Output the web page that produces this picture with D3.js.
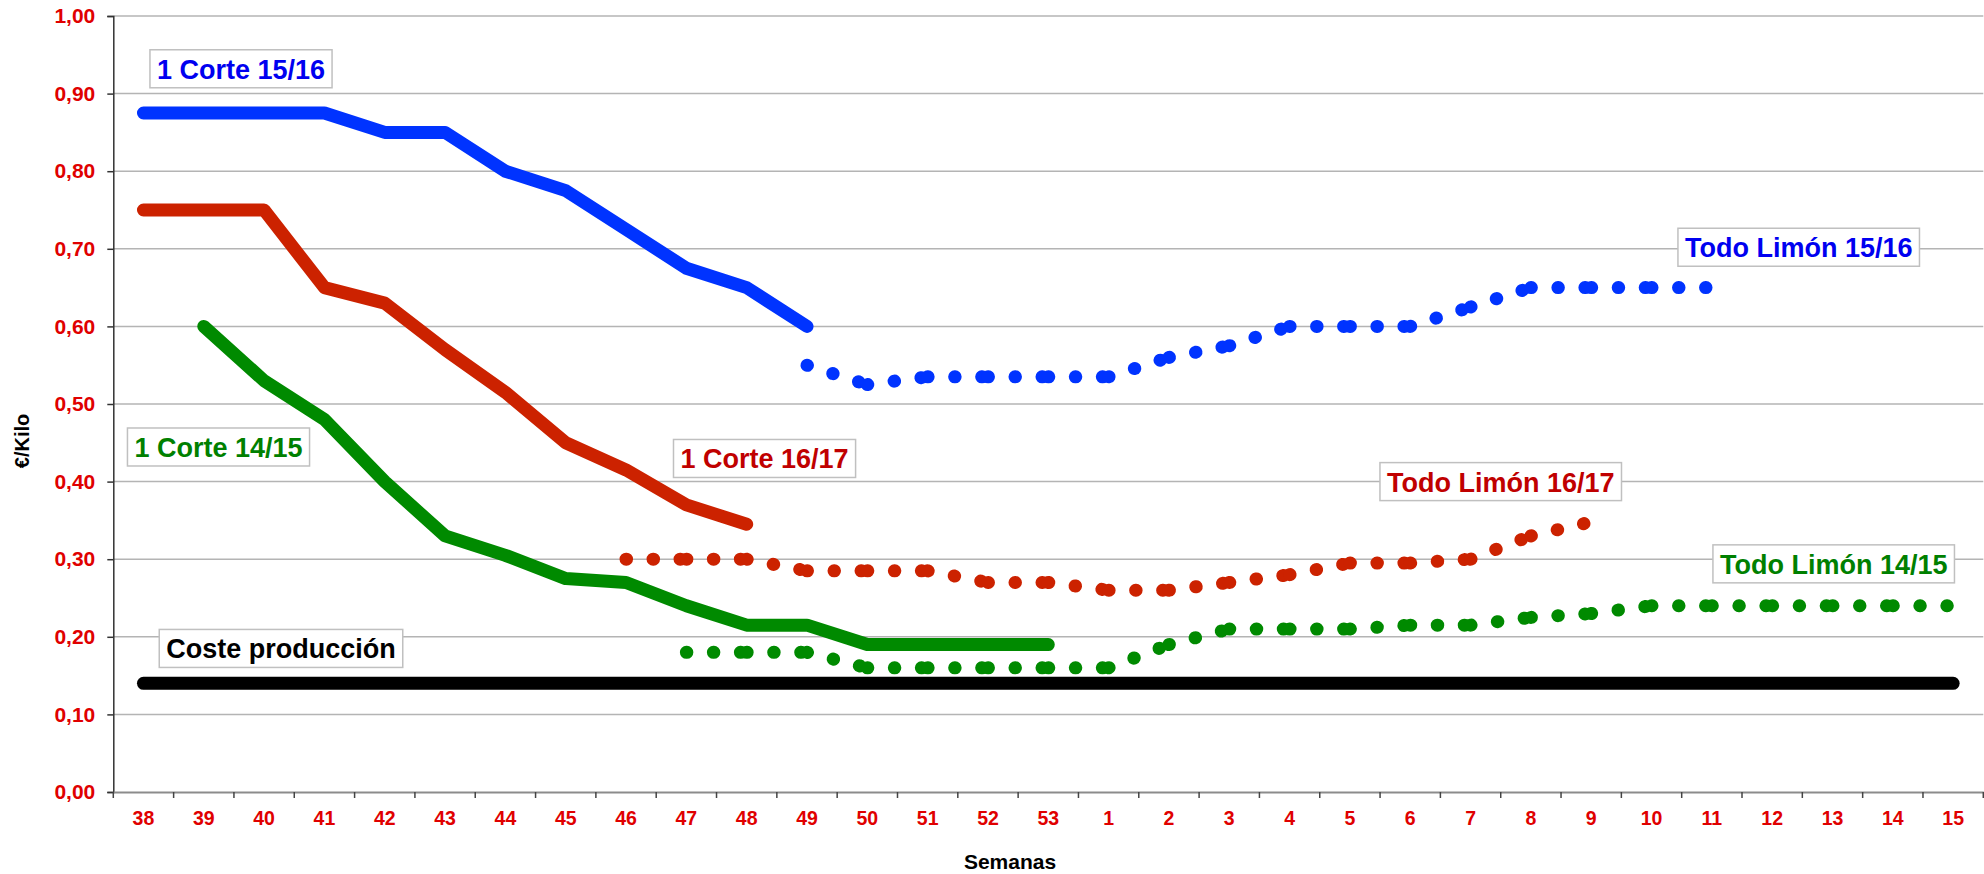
<!DOCTYPE html>
<html>
<head>
<meta charset="utf-8">
<script src="https://cdn.jsdelivr.net/npm/d3@7"></script>
<style>
    body { margin: 0; background: #fff; }
    svg text { font-family: "Liberation Sans", Arial, sans-serif; font-weight: bold; }
</style>
</head>
<body>
<div id="chart"></div>
<script>
// semanas de campaña (38 a 53 y 1 a 15)
let weeks = ["38", "39", "40", "41", "42", "43", "44", "45", "46", "47", "48", "49", "50", "51", "52", "53",
    "1", "2", "3", "4", "5", "6", "7", "8", "9", "10", "11", "12", "13", "14", "15"];

let yTicks = [0, 0.1, 0.2, 0.3, 0.4, 0.5, 0.6, 0.7, 0.8, 0.9, 1.0];

// €/Kilo por semana, null = sin dato
let corte1516 = [0.875, 0.875, 0.875, 0.875, 0.85, 0.85, 0.80, 0.775, 0.725, 0.675, 0.65, 0.60,
    null, null, null, null, null, null, null, null, null, null, null, null, null, null, null, null, null, null, null];
let todo1516 = [null, null, null, null, null, null, null, null, null, null, null, 0.55,
    0.525, 0.535, 0.535, 0.535, 0.535, 0.56, 0.575, 0.60, 0.60, 0.60, 0.625, 0.65, 0.65, 0.65, 0.65, null, null, null, null];
let corte1617 = [0.75, 0.75, 0.75, 0.65, 0.63, 0.57, 0.515, 0.45, 0.415, 0.37, 0.345, null,
    null, null, null, null, null, null, null, null, null, null, null, null, null, null, null, null, null, null, null];
let todo1617 = [null, null, null, null, null, null, null, null, 0.30, 0.30, 0.30, 0.285,
    0.285, 0.285, 0.27, 0.27, 0.26, 0.26, 0.27, 0.28, 0.295, 0.295, 0.30, 0.33, 0.348, null, null, null, null, null, null];
let corte1415 = [null, 0.60, 0.53, 0.48, 0.40, 0.33, 0.305, 0.275, 0.27, 0.24, 0.215, 0.215,
    0.19, 0.19, 0.19, 0.19, null, null, null, null, null, null, null, null, null, null, null, null, null, null, null];
let todo1415 = [null, null, null, null, null, null, null, null, null, 0.18, 0.18, 0.18,
    0.16, 0.16, 0.16, 0.16, 0.16, 0.19, 0.21, 0.21, 0.21, 0.215, 0.215, 0.225, 0.23, 0.24, 0.24, 0.24, 0.24, 0.24, 0.24];
let coste = [0.14, 0.14, 0.14, 0.14, 0.14, 0.14, 0.14, 0.14, 0.14, 0.14, 0.14, 0.14,
    0.14, 0.14, 0.14, 0.14, 0.14, 0.14, 0.14, 0.14, 0.14, 0.14, 0.14, 0.14, 0.14, 0.14, 0.14, 0.14, 0.14, 0.14, 0.14];

function preciosChart() {

    let width = 1984,
        height = 874,
        left = 113.3,
        right = 1983.3,
        top = 16,
        bottom = 792,
        lineWidth = 13;

    let svg = d3.select("#chart")
        .append("svg")
        .attr("width", width)
        .attr("height", height)

    let x = d3.scaleBand()
        .domain(weeks)
        .range([left, right]);

    let y = d3.scaleLinear()
        .domain([0, 1])
        .range([bottom, top]);

    // posición de las etiquetas, en semanas
    let pos = d3.scaleLinear()
        .domain([0, weeks.length])
        .range([left, right]);

    let cx = function (w) {
        return x(w) + x.bandwidth() / 2;
    };

    // líneas de división
    svg.append("g")
        .selectAll("line")
        .data(yTicks.slice(1))
        .enter()
        .append("line")
        .attr("x1", left)
        .attr("x2", right)
        .attr("y1", function (d) { return y(d); })
        .attr("y2", function (d) { return y(d); })
        .style("stroke", "#b4b4b4")
        .style("stroke-width", 1.5)

    // eje Y
    let y_axis = d3.axisLeft(y)
        .tickValues(yTicks)
        .tickSize(6)
        .tickPadding(12)
        .tickFormat(function (d) {
            return d3.format(".2f")(d).replace(".", ",");
        });

    let gy = svg.append("g")
        .attr("transform", "translate(" + left + ",0)")
        .call(y_axis)

    gy.select(".domain").style("stroke", "#333").style("stroke-width", 1.5)
    gy.selectAll(".tick line").style("stroke", "#333").style("stroke-width", 1.5)
    gy.selectAll(".tick text")
        .style("fill", "#e00000")
        .style("font-size", "21px")
        .style("font-family", "'Liberation Sans', Arial, sans-serif")
        .style("font-weight", "bold")

    // eje X
    let x_axis = d3.axisBottom(x)
        .tickSize(0)
        .tickPadding(19);

    let gx = svg.append("g")
        .attr("transform", "translate(0," + bottom + ")")
        .call(x_axis)

    gx.select(".domain").style("stroke", "#8c8c8c").style("stroke-width", 2)
    gx.selectAll(".tick text")
        .style("fill", "#e00000")
        .style("font-size", "19.5px")
        .style("font-family", "'Liberation Sans', Arial, sans-serif")
        .style("font-weight", "bold")

    // marcas entre semanas
    gx.selectAll(".boundary")
        .data(weeks.map(function (w) { return x(w); }).concat([right]))
        .enter()
        .append("line")
        .attr("class", "boundary")
        .attr("x1", function (d) { return d; })
        .attr("x2", function (d) { return d; })
        .attr("y1", 0)
        .attr("y2", 6)
        .style("stroke", "#444")
        .style("stroke-width", 1.5)

    svg.append("text")
        .attr("x", 1010)
        .attr("y", 869)
        .attr("text-anchor", "middle")
        .style("font-size", "21px")
        .text("Semanas")

    svg.append("text")
        .attr("transform", "translate(29,441) rotate(-90)")
        .attr("text-anchor", "middle")
        .style("font-size", "20px")
        .text("€/Kilo")

    let line = d3.line()
        .defined(function (d) { return d.v != null; })
        .x(function (d) { return cx(d.w); })
        .y(function (d) { return y(d.v); });

    function toPoints(values) {
        return weeks.map(function (w, i) {
            return { w: w, v: values[i] };
        });
    }

    function solid(values, color) {
        svg.append("path")
            .datum(toPoints(values))
            .attr("d", line)
            .style("fill", "none")
            .style("stroke", color)
            .style("stroke-width", lineWidth)
            .style("stroke-linecap", "round")
            .style("stroke-linejoin", "round")
    }

    // punteado: el patrón vuelve a empezar en cada tramo, como en Excel
    function dotted(values, color) {
        let pts = toPoints(values),
            segs = [];
        for (let i = 1; i < pts.length; i++) {
            if (pts[i - 1].v != null && pts[i].v != null) segs.push([pts[i - 1], pts[i]]);
        }
        svg.append("g")
            .selectAll("path")
            .data(segs)
            .enter()
            .append("path")
            .attr("d", line)
            .style("fill", "none")
            .style("stroke", color)
            .style("stroke-width", lineWidth)
            .style("stroke-linecap", "round")
            .style("stroke-dasharray", "0.5 26.5")
    }

    solid(coste, "#000000");
    solid(corte1415, "#008a00");
    dotted(todo1415, "#008a00");
    solid(corte1617, "#cc2200");
    dotted(todo1617, "#cc2200");
    solid(corte1516, "#0033ff");
    dotted(todo1516, "#0033ff");

    // etiquetas de serie
    let labels = [
        { text: "1 Corte 15/16", color: "#0000f0", at: 2.117, v: 0.932 },
        { text: "1 Corte 14/15", color: "#008000", at: 1.744, v: 0.4446 },
        { text: "Coste producción", color: "#000000", at: 2.78, v: 0.185 },
        { text: "1 Corte 16/17", color: "#c00000", at: 10.796, v: 0.4298 },
        { text: "Todo Limón 16/17", color: "#c00000", at: 23.0, v: 0.400 },
        { text: "Todo Limón 15/16", color: "#0000f0", at: 27.94, v: 0.702 },
        { text: "Todo Limón 14/15", color: "#008000", at: 28.52, v: 0.294 }
    ];

    labels.forEach(function (d) {
        let g = svg.append("g");
        let bg = g.append("rect")
            .style("fill", "white")
            .style("stroke", "#c0c0c0")
            .style("stroke-width", 1.5)
        let t = g.append("text")
            .attr("x", pos(d.at))
            .attr("y", y(d.v) + 10)
            .attr("text-anchor", "middle")
            .style("font-size", "27px")
            .style("fill", d.color)
            .text(d.text)
        let w = t.node().getComputedTextLength();
        bg.attr("x", pos(d.at) - w / 2 - 7)
            .attr("y", y(d.v) - 19)
            .attr("width", w + 14)
            .attr("height", 38)
    });
}

preciosChart();
</script>
</body>
</html>
